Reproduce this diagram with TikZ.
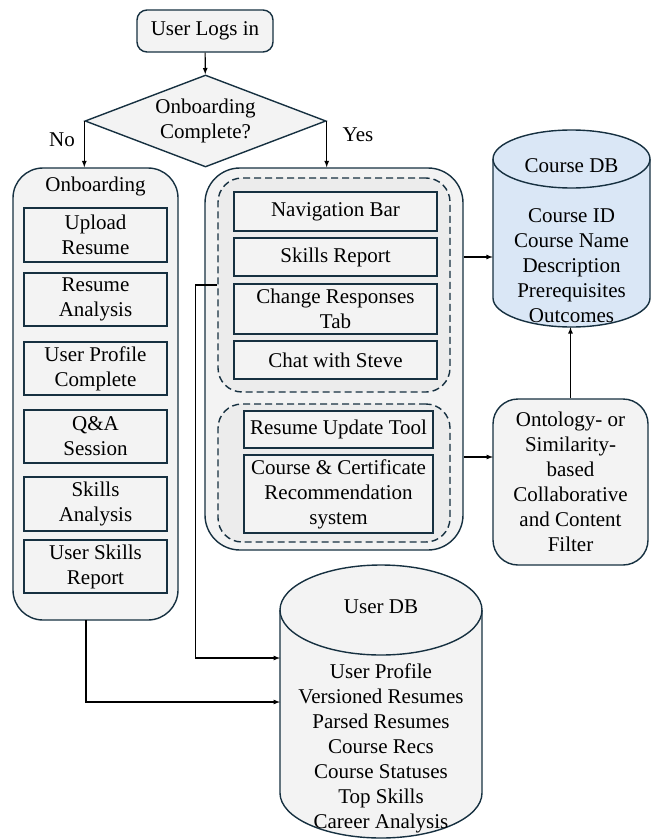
\documentclass[tikz,border=0pt]{standalone}
\usepackage{fontspec}
\setmainfont{Liberation Serif}
\usepackage{xcolor}
\usetikzlibrary{arrows.meta,shapes.geometric}

\definecolor{edge}{RGB}{22,48,64}
\definecolor{boxfill}{RGB}{243,243,243}
\definecolor{grpfill}{RGB}{236,236,236}
\definecolor{dbblue}{RGB}{218,231,246}

\begin{document}
\begin{tikzpicture}[x=1pt,y=-1pt,
    every node/.style={font=\fontsize{21}{25}\selectfont, align=center, inner sep=0pt},
    flowbox/.style={draw=edge, fill=boxfill, line width=1.4pt, rounded corners=10pt},
    panel/.style={draw=edge, fill=boxfill, line width=1.4pt, rounded corners=30pt},
    group/.style={draw=edge, fill=grpfill, line width=1.4pt, dashed, dash pattern=on 7pt off 4pt, rounded corners=24pt},
    item/.style={draw=edge, fill=boxfill, line width=1.4pt},
    decision/.style={diamond, draw=edge, fill=boxfill, line width=1.4pt, aspect=2.62},
    link/.style={-latex, line width=1.2pt, black}]
    \useasboundingbox (0,0) rectangle (652,840);

    % start and decision
    \node[flowbox, minimum width=136pt, minimum height=42pt] (login) at (205,31) {User Logs in};
    \node[decision, minimum width=241pt, minimum height=92pt] (check) at (205.5,121) {Onboarding\\Complete?};
    \node (nolbl) at (62,140) {No};
    \node (yeslbl) at (358,135) {Yes};

    % onboarding column
    \node[panel, minimum width=165pt, minimum height=452pt] (onb) at (95.5,394) {};
    \node (onbtitle) at (95.5,186) {Onboarding};
    \node[item, minimum width=143pt, minimum height=54pt] (upload) at (95.5,235) {Upload\\Resume};
    \node[item, minimum width=143pt, minimum height=53pt] (ranal) at (95.5,299.5) {Resume\\Analysis};
    \node[item, minimum width=143pt, minimum height=53pt] (profile) at (95.5,368.5) {User Profile\\Complete};
    \node[item, minimum width=143pt, minimum height=53pt] (qa) at (95.5,436.5) {Q\&A\\Session};
    \node[item, minimum width=143pt, minimum height=54pt] (sanal) at (95.5,504) {Skills\\Analysis};
    \node[item, minimum width=143pt, minimum height=53pt] (sreport) at (95.5,566.5) {User Skills\\Report};

    % app panel
    \node[panel, rounded corners=35pt, minimum width=258pt, minimum height=382pt] (app) at (334,359) {};
    \node[group, minimum width=232pt, minimum height=214pt] (grp1) at (334,285) {};
    \node[item, minimum width=203pt, minimum height=39pt] (nav) at (335.5,211.5) {Navigation Bar};
    \node[item, minimum width=203pt, minimum height=38pt] (skr) at (335.5,257) {Skills Report};
    \node[item, minimum width=203pt, minimum height=50pt] (chg) at (335.5,309) {Change Responses\\Tab};
    \node[item, minimum width=203pt, minimum height=38pt] (chat) at (335.5,360) {Chat with Steve};
    \node[group, minimum width=232pt, minimum height=138pt] (grp2) at (334,473) {};
    \node[item, minimum width=189pt, minimum height=37pt] (rut) at (338.5,429.5) {Resume Update Tool};
    \node[item, minimum width=189pt, minimum height=78pt] (rec) at (338.5,494) {Course \& Certificate\\Recommendation\\system};

    % course db
    \filldraw[draw=edge, fill=dbblue, line width=1.4pt] (493,159) -- (493,298)
        arc[start angle=180, end angle=0, x radius=78.5, y radius=29] -- (650,159)
        arc[start angle=0, end angle=-180, x radius=78.5, y radius=29] -- cycle;
    \draw[edge, line width=1.4pt] (493,159) arc[start angle=180, end angle=0, x radius=78.5, y radius=29];
    \node[minimum width=157pt, minimum height=197pt] (cdb) at (571.5,228.5) {};
    \node (cdbtitle) at (571.5,166) {Course DB};
    \node (cdbtext) at (571.5,266) {Course ID\\Course Name\\Description\\Prerequisites\\Outcomes};

    % filter
    \node[flowbox, rounded corners=25pt, minimum width=155pt, minimum height=166pt] (ont) at (570.5,482)
        {Ontology- or\\Similarity-\\based\\Collaborative\\and Content\\Filter};

    % user db
    \filldraw[draw=edge, fill=boxfill, line width=1.4pt] (280,610) -- (280,793)
        arc[start angle=180, end angle=0, x radius=101, y radius=45] -- (482,610)
        arc[start angle=0, end angle=-180, x radius=101, y radius=45] -- cycle;
    \draw[edge, line width=1.4pt] (280,610) arc[start angle=180, end angle=0, x radius=101, y radius=45];
    \node[minimum width=202pt, minimum height=273pt] (udb) at (381,701.5) {};
    \node (udbtitle) at (381,607) {User DB};
    \node (udbtext) at (381,748) {User Profile\\Versioned Resumes\\Parsed Resumes\\Course Recs\\Course Statuses\\Top Skills\\Career Analysis};

    % connectors
    \coordinate (onbout) at (86,620);
    \coordinate (udbin1) at (280,658);
    \coordinate (udbin2) at (280,702);
    \coordinate (ontin) at (493,457);
    \draw[link] (login) -- (check);
    \draw[link] (check.west) -- (check.west |- onb.north);
    \draw[link] (check.east) -- (check.east |- app.north);
    \draw[link] (skr -| app.east) -- (skr -| cdb.west);
    \draw[link] (ontin -| app.east) -- (ontin);
    \draw[link] (ont.north) -- (ont.north |- cdb.south);
    \draw[link] (grp1.west) -- ++(-22,0) |- (udbin1);
    \draw[link] (onbout) |- (udbin2);
\end{tikzpicture}
\end{document}
